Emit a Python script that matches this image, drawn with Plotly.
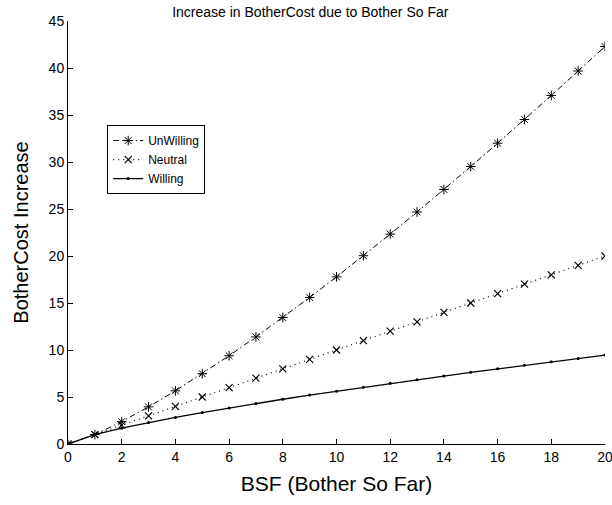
import plotly.graph_objects as go

bsf = list(range(0, 21))
unwilling = [0, 1, 2.38, 3.95, 5.66, 7.48, 9.39, 11.39, 13.45, 15.59, 17.78,
             20.03, 22.33, 24.68, 27.08, 29.52, 32.0, 34.52, 37.08, 39.68, 42.29]
neutral = [0, 1, 2, 3, 4, 5, 6, 7, 8, 9, 10, 11, 12, 13, 14, 15, 16, 17, 18, 19, 20]
willing = [0, 1, 1.68, 2.28, 2.83, 3.34, 3.83, 4.30, 4.76, 5.20, 5.62,
           6.03, 6.45, 6.84, 7.23, 7.62, 8.0, 8.37, 8.74, 9.10, 9.46]
x_ticks = list(range(0, 21, 2))
y_ticks = list(range(0, 46, 5))

fig = go.Figure()
fig.add_trace(go.Scatter(x=bsf, y=unwilling, name="UnWilling", mode="lines+markers",
                         line=dict(color="black", width=1, dash="6px,3px,1.5px,3px"),
                         marker=dict(symbol="asterisk-open", size=8, color="black",
                                     line=dict(width=1, color="black"))))
fig.add_trace(go.Scatter(x=bsf, y=neutral, name="Neutral", mode="lines+markers",
                         line=dict(color="black", width=1.2, dash="1px,4px"),
                         marker=dict(symbol="x-thin-open", size=7, color="black",
                                     line=dict(width=1.2, color="black"))))
fig.add_trace(go.Scatter(x=bsf, y=willing, name="Willing", mode="lines+markers",
                         line=dict(color="black", width=1.3),
                         marker=dict(symbol="circle", size=3, color="black")))

font = "Liberation Sans, Arial, sans-serif"
fig.update_layout(
    width=612, height=505,
    margin=dict(l=68, r=7, t=21, b=61, autoexpand=False),
    paper_bgcolor="white", plot_bgcolor="white",
    font=dict(family=font, color="black"),
    title=dict(text="Increase in BotherCost due to Bother So Far", x=0.507, xanchor="center",
               y=0.976, yanchor="middle", font=dict(size=14, family=font, color="black")),
    xaxis=dict(range=[0, 20], tickvals=x_ticks, showgrid=False, zeroline=False,
               showline=True, linecolor="black", linewidth=1, ticks="inside",
               ticklen=5, tickcolor="black", tickfont=dict(size=14),
               ticklabeloverflow="allow", automargin=False,
               title=dict(text="BSF (Bother So Far)", font=dict(size=21), standoff=12)),
    yaxis=dict(range=[0, 45], tickvals=y_ticks, showgrid=False, zeroline=False,
               showline=True, linecolor="black", linewidth=1, ticks="inside",
               ticklen=5, tickcolor="black", tickfont=dict(size=14), automargin=False,
               title=dict(text="BotherCost Increase", font=dict(size=20), standoff=14)),
    legend=dict(x=0.073, y=0.754, xanchor="left", yanchor="top",
                bordercolor="black", borderwidth=1, bgcolor="white",
                font=dict(size=12), tracegroupgap=0, itemwidth=30),
    showlegend=True,
)
fig.write_html("out.html", config={"displayModeBar": False},
               post_script="document.body.style.margin='0';")
